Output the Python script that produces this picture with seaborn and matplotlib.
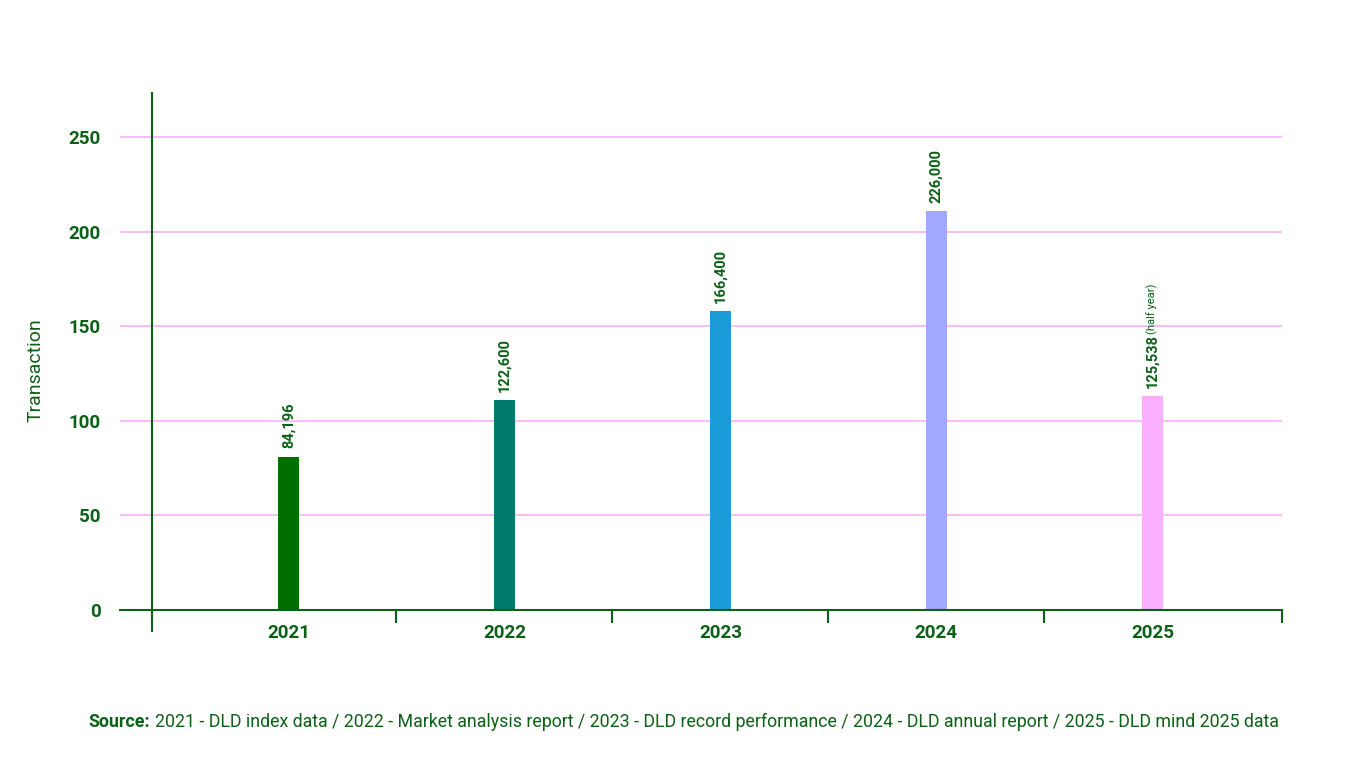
import matplotlib
matplotlib.use("Agg")
import matplotlib.pyplot as plt
import seaborn as sns

# chart data (heights read against the gridlines, labels as printed)
years = ["2021", "2022", "2023", "2024", "2025"]
transactions = [81, 111, 158, 211, 113]
value_labels = ["84,196", "122,600", "166,400", "226,000", "125,538"]
bar_colors = ["#006f00", "#007a6a", "#1a9ad6", "#a0a8ff", "#fbb0ff"]
y_ticks = [0, 50, 100, 150, 200, 250]
source_text = ("2021 - DLD index data / 2022 - Market analysis report / 2023 - DLD record "
               "performance / 2024 - DLD annual report / 2025 - DLD mind 2025 data")

green = "#0b6115"
grid_pink = "#f7b9f7"

sns.set_style("white")
plt.rcParams["font.family"] = ["Roboto", "DejaVu Sans"]

fig = plt.figure(figsize=(13.65, 7.68), dpi=100)
W, H = 1365, 768
ax = fig.add_axes([120 / W, 1 - 632 / H, (1282 - 120) / W, (632 - 92) / H])

sns.barplot(x=years, y=transactions, hue=years, palette=bar_colors, legend=False,
            width=0.1, saturation=1, ax=ax, edgecolor="none")

ax.set_xlim(-0.78, 4.6)
ax.set_ylim(-11.7, 274)

# gridlines
for t in y_ticks[1:]:
    ax.axhline(t, color=grid_pink, lw=1.3, zorder=0)

# axes lines
for s in ["top", "right", "left"]:
    ax.spines[s].set_visible(False)
ax.spines["bottom"].set_position(("data", 0))
ax.spines["bottom"].set_color(green)
ax.spines["bottom"].set_linewidth(1.5)
ax.axvline(-0.63, color=green, lw=1.5, zorder=3)

ax.set_yticks(y_ticks)
ax.set_yticklabels([str(t) for t in y_ticks], fontsize=13.5, fontweight="bold", color=green)
ax.tick_params(axis="y", length=0, pad=14)

ax.set_xticks(range(len(years)))
ax.set_xticklabels(years, fontsize=13.5, fontweight="bold", color=green)
ax.tick_params(axis="x", which="major", length=0, pad=10)
ax.set_xticks([0.5, 1.5, 2.5, 3.5, 4.6], minor=True)
ax.tick_params(axis="x", which="minor", bottom=True, length=9, width=1.5,
               color=green, direction="out")
ax.set_xlabel("")
ax.set_ylabel("")

# value labels above the bars
for i, (h, lab) in enumerate(zip(transactions, value_labels)):
    ax.annotate(lab, (i, h), xytext=(0, 6), textcoords="offset points", rotation=90,
                ha="center", va="bottom", fontsize=10.5, fontweight="bold", color=green)
ax.annotate("(half year)", (4, transactions[4]), xytext=(0, 45), textcoords="offset points",
            rotation=90, ha="center", va="bottom", fontsize=8, color=green)

fig.text(36 / W, 1 - 370 / H, "Transaction", rotation=90, ha="center", va="center",
         fontsize=14, color=green)

# source line: bold prefix then regular text
t1 = fig.text(88 / W, 1 - 722 / H, "Source:", ha="left", va="center",
              fontsize=12.8, fontweight="bold", color=green)
fig.canvas.draw()
r = fig.canvas.get_renderer()
bb = t1.get_window_extent(r)
fig.text((bb.x1 + 5) / W, 1 - 722 / H, source_text, ha="left", va="center",
         fontsize=12.8, color=green)

fig.savefig("out.png", dpi=100)
